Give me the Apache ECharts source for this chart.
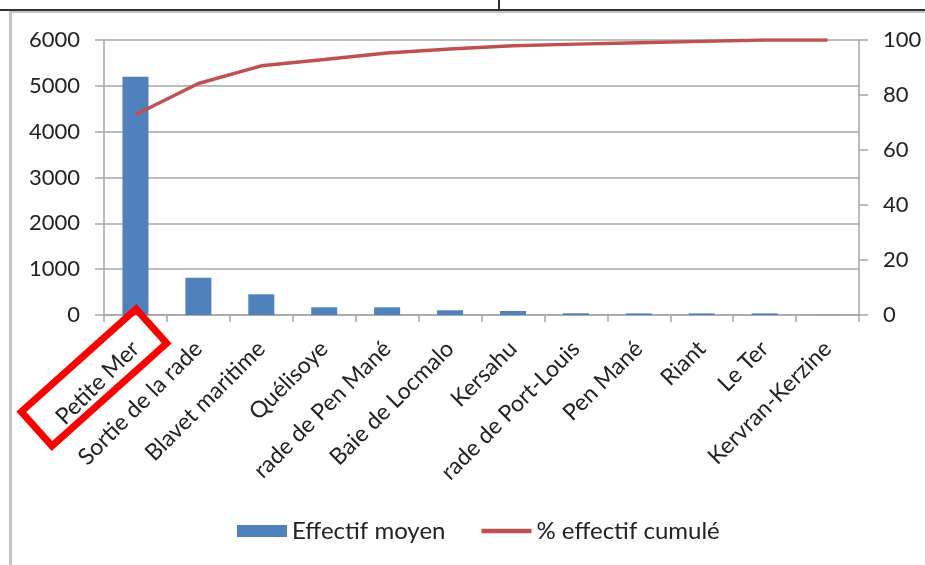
<!DOCTYPE html>
<html>
<head>
<meta charset="utf-8">
<script src="https://cdn.jsdelivr.net/npm/echarts@6/dist/echarts.min.js"></script>
<style>
html,body{margin:0;padding:0;background:#fff;}
#chart{width:925px;height:565px;}
</style>
</head>
<body>
<div id="chart"></div>
<script>
const categories = ['Petite Mer','Sortie de la rade','Blavet maritime','Quélisoye','rade de Pen Mané','Baie de Locmalo','Kersahu','rade de Port-Louis','Pen Mané','Riant','Le Ter','Kervran-Kerzine'];
const effectifMoyen = [5200, 814, 452, 168, 168, 103, 87, 37, 35, 35, 35, 2];
const pctCumule = [72.8, 84.2, 90.6, 92.9, 95.3, 96.7, 97.9, 98.5, 99.0, 99.5, 100, 100];
const leftTicks = [0, 6000, 1000];
const rightTicks = [0, 100, 20];

const FONT = 'Lato';
const chart = echarts.init(document.getElementById('chart'), null, {renderer:'canvas'});
const axisGray = '#a6a6a6';
chart.setOption({
  backgroundColor:'#fff',
  animation:false,
  textStyle:{fontFamily:FONT},
  grid:{left:104, right:66, top:40, bottom:250, containLabel:false},
  legend:{
    left:232, top:514, itemWidth:50, itemHeight:12, itemGap:36,
    textStyle:{fontFamily:FONT, fontSize:24, color:'#222'},
    data:[
      {name:'Effectif moyen', icon:'rect'},
      {name:'% effectif cumulé', icon:'path://M0,0H50V4.5H0Z', itemStyle:{color:'#C0504D'}}
    ]
  },
  xAxis:{
    type:'category', data:categories, boundaryGap:true,
    axisLine:{lineStyle:{color:axisGray, width:1.5}},
    axisTick:{show:true, alignWithLabel:false, length:7, lineStyle:{color:axisGray, width:1.5}},
    axisLabel:{interval:0, rotate:45, margin:30, fontFamily:FONT, fontSize:23, color:'#222'}
  },
  yAxis:[{
    type:'value', min:leftTicks[0], max:leftTicks[1], interval:leftTicks[2], position:'left',
    axisLine:{show:true, lineStyle:{color:axisGray, width:1.5}},
    axisTick:{show:true, length:9, lineStyle:{color:axisGray, width:1.5}},
    splitLine:{show:true, lineStyle:{color:axisGray, width:1.5}},
    axisLabel:{margin:24, fontFamily:FONT, fontSize:22, color:'#222', formatter:function(v){return String(v);}}
  },{
    type:'value', min:rightTicks[0], max:rightTicks[1], interval:rightTicks[2], position:'right',
    axisLine:{show:true, lineStyle:{color:axisGray, width:1.5}},
    axisTick:{show:true, length:9, lineStyle:{color:axisGray, width:1.5}},
    splitLine:{show:false},
    axisLabel:{margin:24, fontFamily:FONT, fontSize:22, color:'#222', formatter:function(v){return String(v);}}
  }],
  series:[{
    name:'Effectif moyen', type:'bar', data:effectifMoyen, yAxisIndex:0, barWidth:26,
    itemStyle:{color:'#4F81BD'}
  },{
    name:'% effectif cumulé', type:'line', data:pctCumule, yAxisIndex:1,
    symbol:'none', showSymbol:false,
    lineStyle:{color:'#C0504D', width:3.5}, itemStyle:{color:'#C0504D'}
  }],
  graphic:[
    {type:'line', shape:{x1:0,y1:10,x2:925,y2:10}, style:{stroke:'#333', lineWidth:2}, z:100},
    {type:'line', shape:{x1:499,y1:0,x2:499,y2:10}, style:{stroke:'#333', lineWidth:2}, z:100},
    {type:'line', shape:{x1:10,y1:12,x2:925,y2:12}, style:{stroke:'#c4c4c4', lineWidth:2}, z:100},
    {type:'line', shape:{x1:10.5,y1:11,x2:10.5,y2:565}, style:{stroke:'#c4c4c4', lineWidth:3}, z:100},
    {type:'rect', x:94, y:377.5, rotation:0.73,
     shape:{x:-77, y:-23, width:154, height:46},
     style:{fill:'none', stroke:'#ff0000', lineWidth:7}, z:100}
  ]
});
</script>
</body>
</html>
